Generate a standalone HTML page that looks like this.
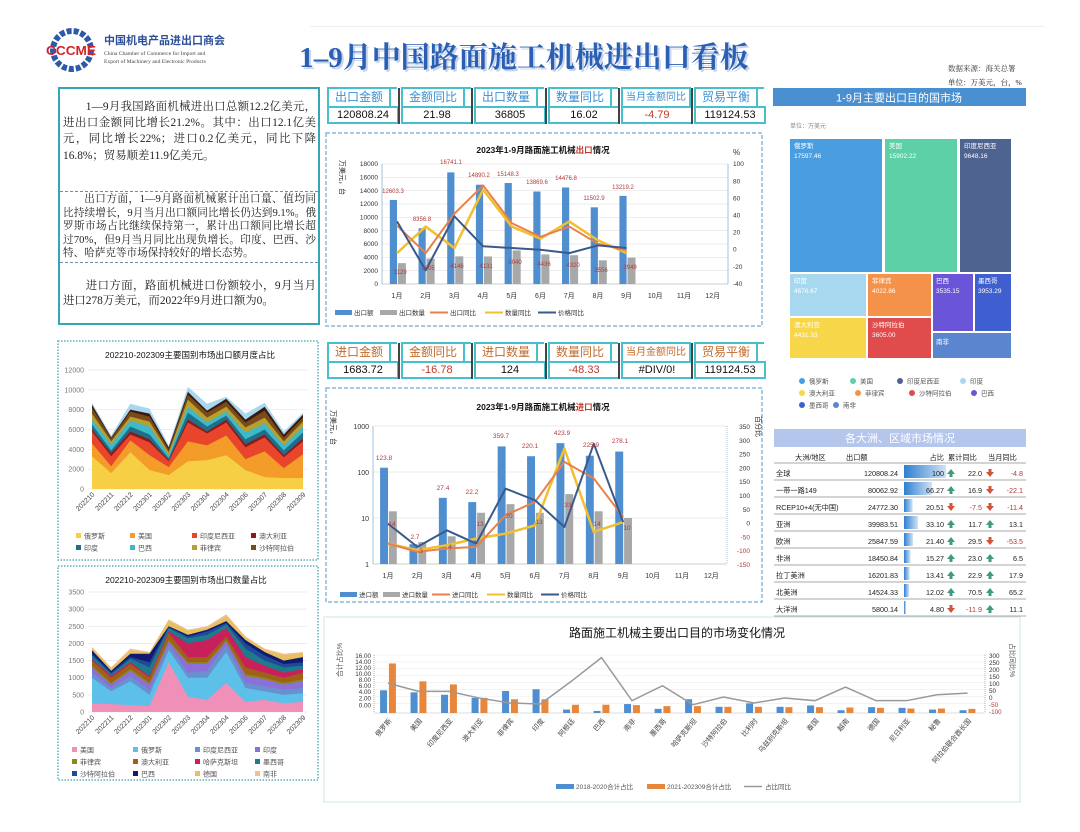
<!DOCTYPE html>
<html><head><meta charset="utf-8">
<style>
*{margin:0;padding:0;box-sizing:border-box}
body{width:1080px;height:832px;background:#fff;position:relative;overflow:hidden;font-family:"Liberation Sans","Noto Sans CJK SC",sans-serif}
.abs{position:absolute}
.tb{left:58px;top:87px;width:262px;height:238px;border:2px solid #35a6b6;font-family:"Liberation Serif","Noto Serif CJK SC",serif;font-size:11.4px;line-height:16.2px;color:#222;text-align:justify}
.tb p{text-indent:2em;position:absolute;left:3px;right:2px}
.kpi{position:absolute;width:70px;height:37px;border-top:2px solid #45c0cc;border-left:2px solid #45c0cc}
.kpi .l{height:17px;text-align:center;font-size:12px;line-height:17px;color:#3a8fd0;border-right:2px solid #45c0cc;margin-right:6px;white-space:nowrap;overflow:hidden}
.kpi .v{position:absolute;top:17px;left:-2px;width:72px;height:18px;border:2px solid #45c0cc;background:#fff;text-align:center;font-size:11px;line-height:14px;color:#111}
.sep{position:absolute;width:2px;background:#444}
</style></head><body>

<svg class="abs" style="left:0;top:0" width="1080" height="832" xmlns="http://www.w3.org/2000/svg" font-family="Liberation Sans, Noto Sans CJK SC, sans-serif">
<rect x="310" y="26" width="735" height="1" fill="#eee"/>
<circle cx="72" cy="50" r="19" fill="none" stroke="#2d5aa8" stroke-width="6" stroke-dasharray="5 2"/>
<text x="71" y="55" font-size="13" font-weight="bold" fill="#d2232a" text-anchor="middle" font-family="Liberation Sans, sans-serif" textLength="50" lengthAdjust="spacingAndGlyphs">CCCME</text>
<text x="104" y="44" font-size="11" font-weight="bold" fill="#2d4f9a" font-family="Noto Sans CJK SC, sans-serif">中国机电产品进出口商会</text>
<text x="104" y="55" font-size="5.6" fill="#444" font-family="Liberation Serif, serif">China Chamber of Commerce for Import and</text>
<text x="104" y="63" font-size="5.6" fill="#444" font-family="Liberation Serif, serif">Export of Machinery and Electronic Products</text>
<text x="526" y="69" font-size="29" font-weight="bold" fill="#c5d4ea" text-anchor="middle" font-family="Liberation Serif, Noto Serif CJK SC, serif">1–9月中国路面施工机械进出口看板</text>
<text x="524" y="67" font-size="29" font-weight="bold" fill="#2a5fb4" text-anchor="middle" font-family="Liberation Serif, Noto Serif CJK SC, serif">1–9月中国路面施工机械进出口看板</text>
<text x="948" y="71" font-size="7.5" fill="#333" font-family="Liberation Serif, Noto Serif CJK SC, serif">数据来源：海关总署</text>
<text x="948" y="85" font-size="7.5" fill="#111" font-family="Liberation Serif, Noto Serif CJK SC, serif">单位：万美元，台，%</text>

<!-- EXPORT CHART -->
<rect x="326" y="133" width="436" height="193" fill="none" stroke="#8ab8d8" stroke-width="1.5" stroke-dasharray="4 2"/>
<text x="543" y="153" font-size="8.5" font-weight="bold" text-anchor="middle" fill="#111">2023年1-9月路面施工机械<tspan fill="#c0392b">出口</tspan>情况</text>
<g stroke="#e4e4e4" stroke-width="0.7">
<line x1="382" x2="728" y1="164" y2="164"/><line x1="382" x2="728" y1="177.3" y2="177.3"/><line x1="382" x2="728" y1="190.7" y2="190.7"/><line x1="382" x2="728" y1="204" y2="204"/><line x1="382" x2="728" y1="217.3" y2="217.3"/><line x1="382" x2="728" y1="230.7" y2="230.7"/><line x1="382" x2="728" y1="244" y2="244"/><line x1="382" x2="728" y1="257.3" y2="257.3"/><line x1="382" x2="728" y1="270.7" y2="270.7"/>
</g>
<line x1="382" x2="728" y1="284" y2="284" stroke="#bbb" stroke-width="0.7"/>
<line x1="382" x2="382" y1="164" y2="284" stroke="#8ab8d8" stroke-width="0.8"/>
<line x1="728" x2="728" y1="164" y2="284" stroke="#8ab8d8" stroke-width="0.8"/>
<g font-size="6.5" fill="#333" text-anchor="end">
<text x="378" y="166">18000</text><text x="378" y="179.5">16000</text><text x="378" y="193">14000</text><text x="378" y="206">12000</text><text x="378" y="219.5">10000</text><text x="378" y="233">8000</text><text x="378" y="246">6000</text><text x="378" y="259.5">4000</text><text x="378" y="273">2000</text><text x="378" y="286">0</text>
</g>
<g font-size="6.5" fill="#333">
<text x="733" y="166">100</text><text x="733" y="183.5">80</text><text x="733" y="200.5">60</text><text x="733" y="217.5">40</text><text x="733" y="234.5">20</text><text x="733" y="251.5">0</text><text x="733" y="269">-20</text><text x="733" y="286">-40</text>
<text x="733" y="155" font-size="8">%</text>
</g>
<text x="340" y="160" font-size="7" fill="#222" transform="rotate(90 340 160)">万美元，台</text>
<g transform="translate(397,284) scale(28.7,-0.006667)">
<g fill="#4f8fd0">
<rect x="-0.25" width="0.25" y="0" height="12603"/><rect x="0.75" width="0.25" y="0" height="8357"/><rect x="1.75" width="0.25" y="0" height="16741"/><rect x="2.75" width="0.25" y="0" height="14890"/><rect x="3.75" width="0.25" y="0" height="15148"/><rect x="4.75" width="0.25" y="0" height="13870"/><rect x="5.75" width="0.25" y="0" height="14477"/><rect x="6.75" width="0.25" y="0" height="11503"/><rect x="7.75" width="0.25" y="0" height="13219"/>
</g>
<g fill="#a8a8a8">
<rect x="0.03" width="0.28" y="0" height="3129"/><rect x="1.03" width="0.28" y="0" height="3805"/><rect x="2.03" width="0.28" y="0" height="4146"/><rect x="3.03" width="0.28" y="0" height="4131"/><rect x="4.03" width="0.28" y="0" height="5040"/><rect x="5.03" width="0.28" y="0" height="4436"/><rect x="6.03" width="0.28" y="0" height="4320"/><rect x="7.03" width="0.28" y="0" height="3556"/><rect x="8.03" width="0.28" y="0" height="3949"/>
</g>
</g>
<g transform="translate(397,249.7) scale(28.7,-0.857)" fill="none" stroke-linejoin="round">
<polyline vector-effect="non-scaling-stroke" stroke="#f0c030" stroke-width="2.5" points="0,-4 1,27 2,2 3,70 4,27 5,13 6,33 7,11 8,-4"/>
<polyline vector-effect="non-scaling-stroke" stroke="#e8814a" stroke-width="2" points="0,28 1,-4 2,42 3,75 4,31 5,15 6,27 7,7 8,-1"/>
<polyline vector-effect="non-scaling-stroke" stroke="#3a5a8c" stroke-width="2" points="0,33 1,-24 2,39 3,4 4,2 5,0 6,-4 7,5 8,2"/>
</g>
<g font-size="6" fill="#b03a3a" text-anchor="middle">
<text x="393" y="193">12603.3</text><text x="422" y="221">8356.8</text><text x="451" y="164">16741.1</text><text x="479" y="177">14890.2</text><text x="508" y="176">15148.3</text><text x="537" y="184">13869.6</text><text x="566" y="180">14476.8</text><text x="594" y="200">11502.9</text><text x="623" y="189">13219.2</text>
<text x="400" y="274">3129</text><text x="428" y="270">3805</text><text x="457" y="268">4146</text><text x="486" y="268">4131</text><text x="515" y="264">5040</text><text x="544" y="266">4436</text><text x="573" y="267">4320</text><text x="601" y="272">3556</text><text x="630" y="269">3949</text>
</g>
<g font-size="7" fill="#333" text-anchor="middle">
<text x="397" y="298">1月</text><text x="425.7" y="298">2月</text><text x="454.4" y="298">3月</text><text x="483.1" y="298">4月</text><text x="511.8" y="298">5月</text><text x="540.5" y="298">6月</text><text x="569.2" y="298">7月</text><text x="597.9" y="298">8月</text><text x="626.6" y="298">9月</text><text x="655.3" y="298">10月</text><text x="684" y="298">11月</text><text x="712.7" y="298">12月</text>
</g>
<g font-size="6.5" fill="#333">
<rect x="335" y="310" width="17" height="5" fill="#4f8fd0"/><text x="354" y="315">出口额</text>
<rect x="380" y="310" width="17" height="5" fill="#a8a8a8"/><text x="399" y="315">出口数量</text>
<line x1="430" x2="448" y1="312.5" y2="312.5" stroke="#e8814a" stroke-width="2"/><text x="450" y="315">出口同比</text>
<line x1="485" x2="503" y1="312.5" y2="312.5" stroke="#f0c030" stroke-width="2"/><text x="505" y="315">数量同比</text>
<line x1="538" x2="556" y1="312.5" y2="312.5" stroke="#3a5a8c" stroke-width="2"/><text x="558" y="315">价格同比</text>
</g>

<!-- IMPORT CHART -->
<rect x="326" y="388" width="436" height="214" fill="none" stroke="#8ab8d8" stroke-width="1.5" stroke-dasharray="4 2"/>
<text x="543" y="410" font-size="8.5" font-weight="bold" text-anchor="middle" fill="#111">2023年1-9月路面施工机械<tspan fill="#c0392b">进口</tspan>情况</text>
<g stroke="#e4e4e4" stroke-width="0.7"><line x1="373" x2="727" y1="426" y2="426"/><line x1="373" x2="727" y1="472" y2="472"/><line x1="373" x2="727" y1="518" y2="518"/></g>
<line x1="373" x2="727" y1="564" y2="564" stroke="#bbb" stroke-width="0.7"/>
<line x1="373" x2="373" y1="426" y2="564" stroke="#8ab8d8" stroke-width="0.8"/>
<line x1="727" x2="727" y1="426" y2="564" stroke="#8ab8d8" stroke-width="0.8" stroke-dasharray="1 1"/>
<g font-size="7" fill="#333" text-anchor="end"><text x="369" y="429">1000</text><text x="369" y="475">100</text><text x="369" y="521">10</text><text x="369" y="567">1</text></g>
<g font-size="6.5" fill="#333" text-anchor="end">
<text x="750" y="429">350</text><text x="750" y="442.8">300</text><text x="750" y="456.6">250</text><text x="750" y="470.4">200</text><text x="750" y="484.2">150</text><text x="750" y="498">100</text><text x="750" y="511.8">50</text><text x="750" y="525.6">0</text><text x="750" y="539.4" fill="#b03a3a">-50</text><text x="750" y="553.2" fill="#b03a3a">-100</text><text x="750" y="567" fill="#b03a3a">-150</text>
</g>
<text x="756" y="416" font-size="7" fill="#222" transform="rotate(90 756 416)">百分比</text>
<text x="331" y="410" font-size="7" fill="#222" transform="rotate(90 331 410)">万美元，台</text>
<g transform="translate(388,564) scale(29.4,-46)">
<g fill="#4f8fd0">
<rect x="-0.27" width="0.27" y="0" height="2.093"/><rect x="0.73" width="0.27" y="0" height="0.431"/><rect x="1.73" width="0.27" y="0" height="1.438"/><rect x="2.73" width="0.27" y="0" height="1.346"/><rect x="3.73" width="0.27" y="0" height="2.556"/><rect x="4.73" width="0.27" y="0" height="2.343"/><rect x="5.73" width="0.27" y="0" height="2.627"/><rect x="6.73" width="0.27" y="0" height="2.354"/><rect x="7.73" width="0.27" y="0" height="2.444"/>
</g>
<g fill="#a8a8a8">
<rect x="0.03" width="0.27" y="0" height="1.146"/><rect x="1.03" width="0.27" y="0" height="0.477"/><rect x="2.03" width="0.27" y="0" height="0.602"/><rect x="3.03" width="0.27" y="0" height="1.114"/><rect x="4.03" width="0.27" y="0" height="1.301"/><rect x="5.03" width="0.27" y="0" height="1.114"/><rect x="6.03" width="0.27" y="0" height="1.519"/><rect x="7.03" width="0.27" y="0" height="1.146"/><rect x="8.03" width="0.27" y="0" height="1"/>
</g>
</g>
<g transform="translate(388,522.6) scale(29.4,-0.276)" fill="none" stroke-linejoin="round">
<polyline vector-effect="non-scaling-stroke" stroke="#f0c030" stroke-width="2.5" points="0,-76 1,-100 2,-82 3,-58 4,-40 5,-10 6,268 7,-34 8,2"/>
<polyline vector-effect="non-scaling-stroke" stroke="#e8814a" stroke-width="2" points="0,-76 1,-106 2,-94 3,-88 4,27 5,75 6,220 7,160 8,20"/>
<polyline vector-effect="non-scaling-stroke" stroke="#3a5a8c" stroke-width="2" points="0,-4 1,-88 2,-28 3,-76 4,123 5,81 6,-16 7,286 8,2"/>
</g>
<g font-size="6.5" fill="#b03a3a" text-anchor="middle">
<text x="384" y="460">123.8</text><text x="415" y="539">2.7</text><text x="443" y="490">27.4</text><text x="472" y="494">22.2</text><text x="501" y="438">359.7</text><text x="530" y="448">220.1</text><text x="562" y="435">423.9</text><text x="591" y="447">225.9</text><text x="620" y="443">278.1</text>
<text x="392" y="526">14</text><text x="421" y="553">3</text><text x="450" y="549">4</text><text x="480" y="526">13</text><text x="509" y="518">20</text><text x="539" y="524">13</text><text x="568" y="507">33</text><text x="597" y="526">14</text><text x="627" y="530">10</text>
</g>
<g font-size="7" fill="#333" text-anchor="middle">
<text x="388" y="578">1月</text><text x="417.4" y="578">2月</text><text x="446.8" y="578">3月</text><text x="476.2" y="578">4月</text><text x="505.6" y="578">5月</text><text x="535" y="578">6月</text><text x="564.4" y="578">7月</text><text x="593.8" y="578">8月</text><text x="623.2" y="578">9月</text><text x="652.6" y="578">10月</text><text x="682" y="578">11月</text><text x="711.4" y="578">12月</text>
</g>
<g font-size="6.5" fill="#333">
<rect x="340" y="592" width="17" height="5" fill="#4f8fd0"/><text x="359" y="597">进口额</text>
<rect x="383" y="592" width="17" height="5" fill="#a8a8a8"/><text x="402" y="597">进口数量</text>
<line x1="432" x2="450" y1="594.5" y2="594.5" stroke="#e8814a" stroke-width="2"/><text x="452" y="597">进口同比</text>
<line x1="487" x2="505" y1="594.5" y2="594.5" stroke="#f0c030" stroke-width="2"/><text x="507" y="597">数量同比</text>
<line x1="541" x2="559" y1="594.5" y2="594.5" stroke="#3a5a8c" stroke-width="2"/><text x="561" y="597">价格同比</text>
</g>

<!-- TREEMAP -->
<rect x="773" y="88" width="253" height="18" fill="#4a8fd0"/>
<text x="899" y="101.5" font-size="11" fill="#fff" text-anchor="middle">1-9月主要出口目的国市场</text>
<text x="790" y="128" font-size="6" fill="#888">单位：万美元</text>
<rect x="790" y="139" width="92" height="133" fill="#4a9ee0"/>
<rect x="885" y="139" width="72" height="133" fill="#5dd0a8"/>
<rect x="960" y="139" width="51" height="133" fill="#4e6390"/>
<rect x="790" y="274" width="76" height="42" fill="#a8d8f0"/>
<rect x="868" y="274" width="63" height="42" fill="#f5924a"/>
<rect x="933" y="274" width="40" height="57" fill="#6a55d8"/>
<rect x="975" y="274" width="36" height="57" fill="#3f5fd0"/>
<rect x="790" y="318" width="76" height="40" fill="#f7d64a"/>
<rect x="868" y="318" width="63" height="40" fill="#e04b4b"/>
<rect x="933" y="333" width="78" height="25" fill="#5a86d0"/>
<g font-size="6.5" fill="#fff">
<text x="794" y="148">俄罗斯</text><text x="794" y="158">17597.46</text>
<text x="889" y="148">美国</text><text x="889" y="158">15902.22</text>
<text x="964" y="148">印度尼西亚</text><text x="964" y="158">9648.16</text>
<text x="794" y="283">印度</text><text x="794" y="293">4676.67</text>
<text x="872" y="283">菲律宾</text><text x="872" y="293">4022.86</text>
<text x="936" y="283">巴西</text><text x="936" y="293">3535.15</text>
<text x="978" y="283">墨西哥</text><text x="978" y="293">3953.29</text>
<text x="794" y="327">澳大利亚</text><text x="794" y="337">4431.33</text>
<text x="872" y="327">沙特阿拉伯</text><text x="872" y="337">3605.00</text>
<text x="936" y="344">南非</text>
</g>
<g font-size="6.5" fill="#555">
<circle cx="802" cy="381" r="3" fill="#4a9ee0"/><text x="809" y="383.5">俄罗斯</text>
<circle cx="853" cy="381" r="3" fill="#5dd0a8"/><text x="860" y="383.5">美国</text>
<circle cx="900" cy="381" r="3" fill="#4e6390"/><text x="907" y="383.5">印度尼西亚</text>
<circle cx="963" cy="381" r="3" fill="#a8d8f0"/><text x="970" y="383.5">印度</text>
<circle cx="802" cy="393" r="3" fill="#f7d64a"/><text x="809" y="395.5">澳大利亚</text>
<circle cx="858" cy="393" r="3" fill="#f5924a"/><text x="865" y="395.5">菲律宾</text>
<circle cx="912" cy="393" r="3" fill="#e04b4b"/><text x="919" y="395.5">沙特阿拉伯</text>
<circle cx="974" cy="393" r="3" fill="#6a55d8"/><text x="981" y="395.5">巴西</text>
<circle cx="802" cy="405" r="3" fill="#3f5fd0"/><text x="809" y="407.5">墨西哥</text>
<circle cx="836" cy="405" r="3" fill="#5a86d0"/><text x="843" y="407.5">南非</text>
</g>

<!-- TABLE -->
<rect x="774" y="429" width="252" height="18" fill="#b4c6ec"/>
<text x="900" y="442" font-size="11" fill="#fff" text-anchor="middle">各大洲、区域市场情况</text>
<g font-size="7.2" fill="#222">
<text x="795" y="460">大洲/地区</text><text x="846" y="460">出口额</text><text x="944" y="460" text-anchor="end">占比</text><text x="948" y="460">累计同比</text><text x="988" y="460">当月同比</text>
</g>
<g stroke="#555" stroke-width="0.6">
<line x1="774" x2="1026" y1="463" y2="463"/><line x1="774" x2="1026" y1="480" y2="480"/><line x1="774" x2="1026" y1="497" y2="497"/><line x1="774" x2="1026" y1="514" y2="514"/><line x1="774" x2="1026" y1="531" y2="531"/><line x1="774" x2="1026" y1="548" y2="548"/><line x1="774" x2="1026" y1="565" y2="565"/><line x1="774" x2="1026" y1="582" y2="582"/><line x1="774" x2="1026" y1="599" y2="599"/><line x1="774" x2="1026" y1="616" y2="616"/>
</g>
<defs><linearGradient id="bg" x1="0" x2="1"><stop offset="0" stop-color="#2f7fd0"/><stop offset="1" stop-color="#cfe3f7"/></linearGradient></defs>
<g fill="url(#bg)">
<rect x="904" y="465" width="42" height="13"/><rect x="904" y="482" width="28" height="13"/><rect x="904" y="499" width="8.6" height="13"/><rect x="904" y="516" width="14" height="13"/><rect x="904" y="533" width="9" height="13"/><rect x="904" y="550" width="6.4" height="13"/><rect x="904" y="567" width="5.6" height="13"/><rect x="904" y="584" width="5" height="13"/><rect x="904" y="601" width="2" height="13"/>
</g>
<g font-size="7.2" fill="#222">
<text x="776" y="476">全球</text><text x="776" y="493">一带一路149</text><text x="776" y="510">RCEP10+4(无中国)</text><text x="776" y="527">亚洲</text><text x="776" y="544">欧洲</text><text x="776" y="561">非洲</text><text x="776" y="578">拉丁美洲</text><text x="776" y="595">北美洲</text><text x="776" y="612">大洋洲</text>
</g>
<g font-size="7.2" fill="#222" text-anchor="end">
<text x="898" y="476">120808.24</text><text x="898" y="493">80062.92</text><text x="898" y="510">24772.30</text><text x="898" y="527">39983.51</text><text x="898" y="544">25847.59</text><text x="898" y="561">18450.84</text><text x="898" y="578">16201.83</text><text x="898" y="595">14524.33</text><text x="898" y="612">5800.14</text>
<text x="944" y="476">100</text><text x="944" y="493">66.27</text><text x="944" y="510">20.51</text><text x="944" y="527">33.10</text><text x="944" y="544">21.40</text><text x="944" y="561">15.27</text><text x="944" y="578">13.41</text><text x="944" y="595">12.02</text><text x="944" y="612">4.80</text>
<text x="982" y="476">22.0</text><text x="982" y="493">16.9</text><text x="982" y="510" fill="#b03a3a">-7.5</text><text x="982" y="527">11.7</text><text x="982" y="544">29.5</text><text x="982" y="561">23.0</text><text x="982" y="578">22.9</text><text x="982" y="595">70.5</text><text x="982" y="612" fill="#b03a3a">-11.9</text>
<text x="1023" y="476" fill="#b03a3a">-4.8</text><text x="1023" y="493" fill="#b03a3a">-22.1</text><text x="1023" y="510" fill="#b03a3a">-11.4</text><text x="1023" y="527">13.1</text><text x="1023" y="544" fill="#b03a3a">-53.5</text><text x="1023" y="561">6.5</text><text x="1023" y="578">17.9</text><text x="1023" y="595">65.2</text><text x="1023" y="612">11.1</text>
</g>
<defs>
<path id="up" d="M-4,1 L0,-4 L4,1 L1.5,1 L1.5,4 L-1.5,4 L-1.5,1 Z" fill="#3f9a80"/>
<path id="dn" d="M-4,-1 L0,4 L4,-1 L1.5,-1 L1.5,-4 L-1.5,-4 L-1.5,-1 Z" fill="#d2553a"/>
</defs>
<use href="#up" x="951" y="473"/><use href="#up" x="951" y="490"/><use href="#dn" x="951" y="507"/><use href="#up" x="951" y="524"/><use href="#up" x="951" y="541"/><use href="#up" x="951" y="558"/><use href="#up" x="951" y="575"/><use href="#up" x="951" y="592"/><use href="#dn" x="951" y="609"/>
<use href="#dn" x="990" y="473"/><use href="#dn" x="990" y="490"/><use href="#dn" x="990" y="507"/><use href="#up" x="990" y="524"/><use href="#dn" x="990" y="541"/><use href="#up" x="990" y="558"/><use href="#up" x="990" y="575"/><use href="#up" x="990" y="592"/><use href="#up" x="990" y="609"/>

<!-- LEFT CHART 1 -->
<rect x="58" y="341" width="260" height="219" fill="none" stroke="#5ab0c0" stroke-width="1.5" stroke-dasharray="1.5 1.5"/>
<text x="190" y="358" font-size="8.5" text-anchor="middle" fill="#111">202210-202309主要国别市场出口额月度占比</text>
<g stroke="#e6e6e6" stroke-width="0.7"><line x1="88" x2="307" y1="370" y2="370"/><line x1="88" x2="307" y1="389.8" y2="389.8"/><line x1="88" x2="307" y1="409.7" y2="409.7"/><line x1="88" x2="307" y1="429.5" y2="429.5"/><line x1="88" x2="307" y1="449.3" y2="449.3"/><line x1="88" x2="307" y1="469.2" y2="469.2"/><line x1="88" x2="307" y1="489" y2="489"/></g>
<g font-size="7" fill="#777" text-anchor="end"><text x="84" y="372.5">12000</text><text x="84" y="392.3">10000</text><text x="84" y="412.2">8000</text><text x="84" y="432">6000</text><text x="84" y="451.8">4000</text><text x="84" y="471.7">2000</text><text x="84" y="491.5">0</text></g>
<g transform="translate(92,489) scale(19.18,-0.009917)">
<polygon fill="#a8d8f0" points="0,0 0,8700 1,5400 2,8600 3,8100 4,4400 5,10300 6,8600 7,9300 8,7600 9,8700 10,5800 11,7700 11,0"/>
<polygon fill="#3a1a10" points="0,0 0,8500 1,5200 2,8000 3,7600 4,4200 5,9800 6,7900 7,9100 8,7000 9,8300 10,5500 11,7500 11,0"/>
<polygon fill="#7a4a1a" points="0,0 0,8200 1,5100 2,7800 3,7300 4,4000 5,9500 6,7700 7,8800 8,6700 9,7900 10,5200 11,7200 11,0"/>
<polygon fill="#b8a030" points="0,0 0,7600 1,4800 2,7300 3,6800 4,3700 5,9000 6,7200 7,8300 8,6200 9,7200 10,4800 11,6800 11,0"/>
<polygon fill="#3fb8c9" points="0,0 0,7000 1,4500 2,6900 3,6300 4,3400 5,8300 6,6700 7,7800 8,5700 9,6600 10,4400 11,6300 11,0"/>
<polygon fill="#1f6f8b" points="0,0 0,6500 1,3900 2,6300 3,5500 4,3100 5,7700 6,6300 7,7400 8,5000 9,6000 10,3900 11,5700 11,0"/>
<polygon fill="#8b1a1a" points="0,0 0,6000 1,3600 2,5800 3,5000 4,2900 5,7000 6,5800 7,7000 8,4500 9,5500 10,3400 11,5100 11,0"/>
<polygon fill="#e8452c" points="0,0 0,5800 1,3300 2,5500 3,4700 4,2800 5,6700 6,5600 7,6700 8,4200 9,5200 10,3200 11,4800 11,0"/>
<polygon fill="#f39c2a" points="0,0 0,4600 1,2300 2,4900 3,3400 4,2200 5,4800 6,4400 7,5400 8,3000 9,3800 10,2100 11,3500 11,0"/>
<polygon fill="#f7cf45" points="0,0 0,3300 1,1600 2,3700 3,1900 4,1400 5,2800 6,2900 7,3400 8,1900 9,1200 10,1100 11,1100 11,0"/>
</g>
<g font-size="7" fill="#444" text-anchor="end">
<text transform="rotate(-45 95 495)" x="95" y="495">202210</text><text transform="rotate(-45 114.2 495)" x="114.2" y="495">202211</text><text transform="rotate(-45 133.4 495)" x="133.4" y="495">202212</text><text transform="rotate(-45 152.5 495)" x="152.5" y="495">202301</text><text transform="rotate(-45 171.7 495)" x="171.7" y="495">202302</text><text transform="rotate(-45 190.9 495)" x="190.9" y="495">202303</text><text transform="rotate(-45 210.1 495)" x="210.1" y="495">202304</text><text transform="rotate(-45 229.3 495)" x="229.3" y="495">202304</text><text transform="rotate(-45 248.4 495)" x="248.4" y="495">202306</text><text transform="rotate(-45 267.6 495)" x="267.6" y="495">202307</text><text transform="rotate(-45 286.8 495)" x="286.8" y="495">202308</text><text transform="rotate(-45 306 495)" x="306" y="495">202309</text>
</g>
<g font-size="7" fill="#555">
<rect x="76" y="533" width="5" height="5" fill="#f7cf45"/><text x="84" y="538.5">俄罗斯</text>
<rect x="130" y="533" width="5" height="5" fill="#f39c2a"/><text x="138" y="538.5">美国</text>
<rect x="192" y="533" width="5" height="5" fill="#e8452c"/><text x="200" y="538.5">印度尼西亚</text>
<rect x="251" y="533" width="5" height="5" fill="#8b1a1a"/><text x="259" y="538.5">澳大利亚</text>
<rect x="76" y="545" width="5" height="5" fill="#1f6f8b"/><text x="84" y="550.5">印度</text>
<rect x="130" y="545" width="5" height="5" fill="#3fb8c9"/><text x="138" y="550.5">巴西</text>
<rect x="192" y="545" width="5" height="5" fill="#b8a030"/><text x="200" y="550.5">菲律宾</text>
<rect x="251" y="545" width="5" height="5" fill="#7a4a1a"/><text x="259" y="550.5">沙特阿拉伯</text>
</g>

<!-- LEFT CHART 2 -->
<rect x="58" y="566" width="260" height="214" fill="none" stroke="#5ab0c0" stroke-width="1.5" stroke-dasharray="1.5 1.5"/>
<text x="186" y="583" font-size="8.5" text-anchor="middle" fill="#111">202210-202309主要国别市场出口数量占比</text>
<g stroke="#e6e6e6" stroke-width="0.7"><line x1="88" x2="307" y1="592" y2="592"/><line x1="88" x2="307" y1="609.1" y2="609.1"/><line x1="88" x2="307" y1="626.3" y2="626.3"/><line x1="88" x2="307" y1="643.4" y2="643.4"/><line x1="88" x2="307" y1="660.6" y2="660.6"/><line x1="88" x2="307" y1="677.7" y2="677.7"/><line x1="88" x2="307" y1="694.9" y2="694.9"/><line x1="88" x2="307" y1="712" y2="712"/></g>
<g font-size="7" fill="#777" text-anchor="end"><text x="84" y="594.5">3500</text><text x="84" y="611.6">3000</text><text x="84" y="628.8">2500</text><text x="84" y="645.9">2000</text><text x="84" y="663.1">1500</text><text x="84" y="680.2">1000</text><text x="84" y="697.4">500</text><text x="84" y="714.5">0</text></g>
<g transform="translate(92,712) scale(19.18,-0.03429)">
<polygon fill="#f0c090" points="0,0 0,1900 1,1300 2,1850 3,1750 4,2700 5,2400 6,2500 7,2850 8,2200 9,1850 10,1700 11,1750 11,0"/>
<polygon fill="#e8c060" points="0,0 0,1850 1,1270 2,1780 3,1730 4,2650 5,2380 6,2450 7,2800 8,2180 9,1820 10,1650 11,1720 11,0"/>
<polygon fill="#101a70" points="0,0 0,1800 1,1200 2,1700 3,1700 4,2500 5,2250 6,2400 7,2650 8,2100 9,1750 10,1500 11,1600 11,0"/>
<polygon fill="#1e4a9a" points="0,0 0,1700 1,1150 2,1600 3,1450 4,2480 5,2200 6,2350 7,2600 8,2000 9,1650 10,1400 11,1450 11,0"/>
<polygon fill="#1f7a8c" points="0,0 0,1650 1,1100 2,1550 3,1300 4,2450 5,2150 6,2250 7,2550 8,1850 9,1500 10,1300 11,1350 11,0"/>
<polygon fill="#c8205a" points="0,0 0,1550 1,1050 2,1450 3,1050 4,2350 5,2000 6,2100 7,2450 8,1600 9,1350 10,1150 11,1250 11,0"/>
<polygon fill="#a0601a" points="0,0 0,1500 1,1000 2,1400 3,1000 4,2300 5,1600 6,1600 7,2200 8,1300 9,1150 10,1000 11,1150 11,0"/>
<polygon fill="#8a8a20" points="0,0 0,1350 1,850 2,1250 3,850 4,2100 5,1450 6,1450 7,2100 8,1100 9,1000 10,850 11,950 11,0"/>
<polygon fill="#8a70d8" points="0,0 0,1300 1,800 2,1200 3,800 4,2050 5,1400 6,1400 7,2050 8,1050 9,950 10,800 11,900 11,0"/>
<polygon fill="#6a90d0" points="0,0 0,1150 1,700 2,1050 3,650 4,1950 5,1150 6,1200 7,1950 8,850 9,750 10,650 11,700 11,0"/>
<polygon fill="#5cc0e8" points="0,0 0,1000 1,600 2,900 3,500 4,1800 5,1000 6,1000 7,1750 8,700 9,600 10,500 11,550 11,0"/>
<polygon fill="#f090b8" points="0,0 0,250 1,230 2,200 3,180 4,1450 5,450 6,350 7,850 8,300 9,350 10,250 11,300 11,0"/>
</g>
<g font-size="7" fill="#444" text-anchor="end">
<text transform="rotate(-45 95 718)" x="95" y="718">202210</text><text transform="rotate(-45 114.2 718)" x="114.2" y="718">202211</text><text transform="rotate(-45 133.4 718)" x="133.4" y="718">202212</text><text transform="rotate(-45 152.5 718)" x="152.5" y="718">202301</text><text transform="rotate(-45 171.7 718)" x="171.7" y="718">202302</text><text transform="rotate(-45 190.9 718)" x="190.9" y="718">202303</text><text transform="rotate(-45 210.1 718)" x="210.1" y="718">202304</text><text transform="rotate(-45 229.3 718)" x="229.3" y="718">202304</text><text transform="rotate(-45 248.4 718)" x="248.4" y="718">202306</text><text transform="rotate(-45 267.6 718)" x="267.6" y="718">202307</text><text transform="rotate(-45 286.8 718)" x="286.8" y="718">202308</text><text transform="rotate(-45 306 718)" x="306" y="718">202309</text>
</g>
<g font-size="7" fill="#555">
<rect x="72" y="747" width="5" height="5" fill="#f090b8"/><text x="80" y="752.5">美国</text>
<rect x="133" y="747" width="5" height="5" fill="#5cc0e8"/><text x="141" y="752.5">俄罗斯</text>
<rect x="195" y="747" width="5" height="5" fill="#6a90d0"/><text x="203" y="752.5">印度尼西亚</text>
<rect x="255" y="747" width="5" height="5" fill="#8a70d8"/><text x="263" y="752.5">印度</text>
<rect x="72" y="759" width="5" height="5" fill="#8a8a20"/><text x="80" y="764.5">菲律宾</text>
<rect x="133" y="759" width="5" height="5" fill="#a0601a"/><text x="141" y="764.5">澳大利亚</text>
<rect x="195" y="759" width="5" height="5" fill="#c8205a"/><text x="203" y="764.5">哈萨克斯坦</text>
<rect x="255" y="759" width="5" height="5" fill="#1f7a8c"/><text x="263" y="764.5">墨西哥</text>
<rect x="72" y="771" width="5" height="5" fill="#1e4a9a"/><text x="80" y="776.5">沙特阿拉伯</text>
<rect x="133" y="771" width="5" height="5" fill="#101a70"/><text x="141" y="776.5">巴西</text>
<rect x="195" y="771" width="5" height="5" fill="#e8c060"/><text x="203" y="776.5">德国</text>
<rect x="255" y="771" width="5" height="5" fill="#f0c090"/><text x="263" y="776.5">南非</text>
</g>

<!-- BOTTOM CHART -->
<rect x="324" y="617" width="696" height="185" fill="none" stroke="#cde4ec" stroke-width="1"/>
<text x="677" y="637" font-size="12" text-anchor="middle" fill="#111">路面施工机械主要出口目的市场变化情况</text>
<g stroke="#ececec" stroke-width="0.6">
<line x1="374" x2="985" y1="655" y2="655"/><line x1="374" x2="985" y1="661.9" y2="661.9"/><line x1="374" x2="985" y1="668.8" y2="668.8"/><line x1="374" x2="985" y1="675.8" y2="675.8"/><line x1="374" x2="985" y1="682.7" y2="682.7"/><line x1="374" x2="985" y1="689.6" y2="689.6"/><line x1="374" x2="985" y1="696.5" y2="696.5"/><line x1="374" x2="985" y1="703.4" y2="703.4"/>
</g>
<line x1="374" x2="985" y1="713" y2="713" stroke="#bbb" stroke-width="0.6"/>
<line x1="374" x2="374" y1="655" y2="713" stroke="#8ab8d8" stroke-width="1" stroke-dasharray="1 1"/>
<line x1="985" x2="985" y1="655" y2="713" stroke="#8ab8d8" stroke-width="1" stroke-dasharray="1 1"/>
<g font-size="6.3" fill="#333" text-anchor="end">
<text x="371" y="658">16.00</text><text x="371" y="664">14.00</text><text x="371" y="670">12.00</text><text x="371" y="676">10.00</text><text x="371" y="682">8.00</text><text x="371" y="688">6.00</text><text x="371" y="694">4.00</text><text x="371" y="700.5">2.00</text><text x="371" y="707.5">0.00</text>
</g>
<g font-size="6.3" fill="#333">
<text x="989" y="658">300</text><text x="989" y="665">250</text><text x="989" y="672">200</text><text x="989" y="679">150</text><text x="989" y="686">100</text><text x="989" y="693">50</text><text x="989" y="700">0</text><text x="989" y="707" fill="#b03a3a">-50</text><text x="989" y="714" fill="#b03a3a">-100</text>
</g>
<text x="342" y="660" font-size="7" fill="#555" transform="rotate(-90 342 660)" text-anchor="middle">合计占比%</text>
<text x="1010" y="660" font-size="7" fill="#555" transform="rotate(90 1010 660)" text-anchor="middle">占比同比%</text>
<g transform="translate(388,713) scale(30.5,-3.44)">
<g fill="#4f8fd0">
<rect x="-0.26" width="0.23" y="0" height="6.6"/><rect x="0.74" width="0.23" y="0" height="6.0"/><rect x="1.74" width="0.23" y="0" height="5.3"/><rect x="2.74" width="0.23" y="0" height="4.4"/><rect x="3.74" width="0.23" y="0" height="6.4"/><rect x="4.74" width="0.23" y="0" height="6.9"/><rect x="5.74" width="0.23" y="0" height="1.0"/><rect x="6.74" width="0.23" y="0" height="0.6"/><rect x="7.74" width="0.23" y="0" height="2.6"/><rect x="8.74" width="0.23" y="0" height="1.2"/><rect x="9.74" width="0.23" y="0" height="4.0"/><rect x="10.74" width="0.23" y="0" height="1.8"/><rect x="11.74" width="0.23" y="0" height="2.8"/><rect x="12.74" width="0.23" y="0" height="1.8"/><rect x="13.74" width="0.23" y="0" height="2.2"/><rect x="14.74" width="0.23" y="0" height="0.8"/><rect x="15.74" width="0.23" y="0" height="1.7"/><rect x="16.74" width="0.23" y="0" height="1.5"/><rect x="17.74" width="0.23" y="0" height="1.0"/><rect x="18.74" width="0.23" y="0" height="0.8"/>
</g>
<g fill="#e8873a">
<rect x="0.03" width="0.23" y="0" height="14.4"/><rect x="1.03" width="0.23" y="0" height="9.2"/><rect x="2.03" width="0.23" y="0" height="8.3"/><rect x="3.03" width="0.23" y="0" height="4.4"/><rect x="4.03" width="0.23" y="0" height="4.0"/><rect x="5.03" width="0.23" y="0" height="4.0"/><rect x="6.03" width="0.23" y="0" height="2.4"/><rect x="7.03" width="0.23" y="0" height="2.4"/><rect x="8.03" width="0.23" y="0" height="2.3"/><rect x="9.03" width="0.23" y="0" height="2.0"/><rect x="10.03" width="0.23" y="0" height="2.0"/><rect x="11.03" width="0.23" y="0" height="1.8"/><rect x="12.03" width="0.23" y="0" height="1.8"/><rect x="13.03" width="0.23" y="0" height="1.7"/><rect x="14.03" width="0.23" y="0" height="1.7"/><rect x="15.03" width="0.23" y="0" height="1.6"/><rect x="16.03" width="0.23" y="0" height="1.5"/><rect x="17.03" width="0.23" y="0" height="1.3"/><rect x="18.03" width="0.23" y="0" height="1.3"/><rect x="19.03" width="0.23" y="0" height="1.2"/>
</g>
</g>
<g transform="translate(388,698.5) scale(30.5,-0.145)">
<polyline fill="none" vector-effect="non-scaling-stroke" stroke="#999" stroke-width="1.5" points="0,106 1,49 2,49 3,3 4,-31 5,-38 6,117 7,282 8,-15 9,88 10,-43 11,10 12,-31 13,3 14,-15 15,79 16,-15 17,-15 18,26 19,37"/>
</g>
<g font-size="7" fill="#444" text-anchor="end">
<text transform="rotate(-50 392 721)" x="392" y="721">俄罗斯</text><text transform="rotate(-50 422.5 721)" x="422.5" y="721">美国</text><text transform="rotate(-50 453 721)" x="453" y="721">印度尼西亚</text><text transform="rotate(-50 483.5 721)" x="483.5" y="721">澳大利亚</text><text transform="rotate(-50 514 721)" x="514" y="721">菲律宾</text><text transform="rotate(-50 544.5 721)" x="544.5" y="721">印度</text><text transform="rotate(-50 575 721)" x="575" y="721">阿根廷</text><text transform="rotate(-50 605.5 721)" x="605.5" y="721">巴西</text><text transform="rotate(-50 636 721)" x="636" y="721">南非</text><text transform="rotate(-50 666.5 721)" x="666.5" y="721">墨西哥</text><text transform="rotate(-50 697 721)" x="697" y="721">哈萨克斯坦</text><text transform="rotate(-50 727.5 721)" x="727.5" y="721">沙特阿拉伯</text><text transform="rotate(-50 758 721)" x="758" y="721">比利时</text><text transform="rotate(-50 788.5 721)" x="788.5" y="721">乌兹别克斯坦</text><text transform="rotate(-50 819 721)" x="819" y="721">泰国</text><text transform="rotate(-50 849.5 721)" x="849.5" y="721">越南</text><text transform="rotate(-50 880 721)" x="880" y="721">德国</text><text transform="rotate(-50 910.5 721)" x="910.5" y="721">尼日利亚</text><text transform="rotate(-50 941 721)" x="941" y="721">秘鲁</text><text transform="rotate(-50 971.5 721)" x="971.5" y="721">阿拉伯联合酋长国</text>
</g>
<g font-size="6.5" fill="#555">
<rect x="556" y="784" width="18" height="5" fill="#4f8fd0"/><text x="576" y="789">2018-2020合计占比</text>
<rect x="647" y="784" width="18" height="5" fill="#e8873a"/><text x="667" y="789">2021-202309合计占比</text>
<line x1="744" x2="762" y1="786.5" y2="786.5" stroke="#999" stroke-width="1.5"/><text x="765" y="789">占比同比</text>
</g>
</svg>

<div class="abs tb">
<p style="top:10px">1—9月我国路面机械进出口总额12.2亿美元，进出口金额同比增长21.2%。其中：出口12.1亿美元，同比增长22%；进口0.2亿美元，同比下降16.8%；贸易顺差11.9亿美元。</p>
<div class="abs" style="left:0;right:0;top:102px;border-top:1px dashed #6a8fb0"></div>
<p style="top:104px;line-height:13.6px;font-size:10.6px">出口方面，1—9月路面机械累计出口量、值均同比持续增长，9月当月出口额同比增长仍达到9.1%。俄罗斯市场占比继续保持第一，累计出口额同比增长超过70%，但9月当月同比出现负增长。印度、巴西、沙特、哈萨克等市场保持较好的增长态势。</p>
<div class="abs" style="left:0;right:0;top:173px;border-top:1px dashed #6a8fb0"></div>
<p style="top:190px;line-height:15px">进口方面，路面机械进口份额较小，9月当月进口278万美元，而2022年9月进口额为0。</p>
</div>

<div class="kpi" style="left:327px;top:87px"><div class="l">出口金额</div><div class="v">120808.24</div></div>
<div class="kpi" style="left:401px;top:87px"><div class="l">金额同比</div><div class="v">21.98</div></div>
<div class="kpi" style="left:474px;top:87px"><div class="l">出口数量</div><div class="v">36805</div></div>
<div class="kpi" style="left:548px;top:87px"><div class="l">数量同比</div><div class="v">16.02</div></div>
<div class="kpi" style="left:621px;top:87px"><div class="l" style="font-size:10px;margin-right:0">当月金额同比</div><div class="v" style="color:#c0392b">-4.79</div></div>
<div class="kpi" style="left:694px;top:87px"><div class="l">贸易平衡</div><div class="v">119124.53</div></div>
<div class="sep" style="left:398px;top:88px;height:36px"></div><div class="sep" style="left:471px;top:88px;height:36px"></div><div class="sep" style="left:545px;top:88px;height:36px"></div><div class="sep" style="left:618px;top:88px;height:36px"></div><div class="sep" style="left:691px;top:88px;height:36px"></div>

<div class="kpi" style="left:327px;top:342px"><div class="l" style="color:#c06a2a">进口金额</div><div class="v">1683.72</div></div>
<div class="kpi" style="left:401px;top:342px"><div class="l" style="color:#c06a2a">金额同比</div><div class="v" style="color:#c0392b">-16.78</div></div>
<div class="kpi" style="left:474px;top:342px"><div class="l" style="color:#c06a2a">进口数量</div><div class="v">124</div></div>
<div class="kpi" style="left:548px;top:342px"><div class="l" style="color:#c06a2a">数量同比</div><div class="v" style="color:#c0392b">-48.33</div></div>
<div class="kpi" style="left:621px;top:342px"><div class="l" style="font-size:10px;margin-right:0;color:#c06a2a">当月金额同比</div><div class="v">#DIV/0!</div></div>
<div class="kpi" style="left:694px;top:342px"><div class="l" style="color:#c06a2a">贸易平衡</div><div class="v">119124.53</div></div>
<div class="sep" style="left:398px;top:343px;height:36px"></div><div class="sep" style="left:471px;top:343px;height:36px"></div><div class="sep" style="left:545px;top:343px;height:36px"></div><div class="sep" style="left:618px;top:343px;height:36px"></div><div class="sep" style="left:691px;top:343px;height:36px"></div>
</body></html>
